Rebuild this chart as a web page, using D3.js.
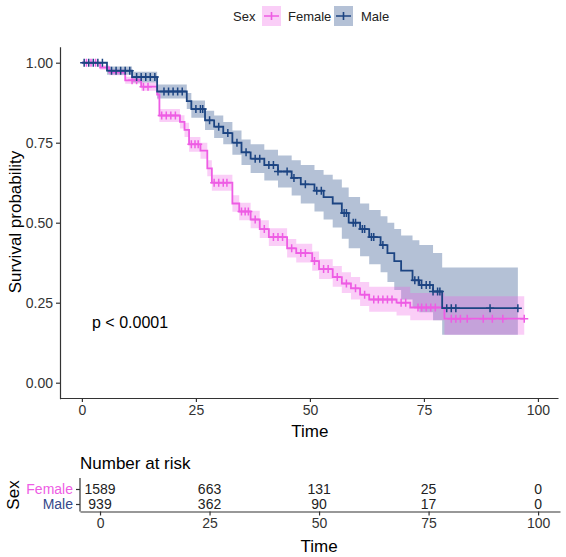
<!DOCTYPE html>
<html>
<head>
<meta charset="utf-8">
<script src="https://cdn.jsdelivr.net/npm/d3@7"></script>
<style>
  body { margin: 0; background: #fff; }
  text { font-family: "Liberation Sans", Arial, sans-serif; }
</style>
</head>
<body>
<script>
// survival steps
var femaleTime = [0, 4, 6, 9.5, 13, 16.5, 17, 21.5, 22.5, 23.5, 26, 27.5, 28.5, 33, 34.5, 37, 39, 41, 45, 47, 50.5, 52, 55, 57, 59, 61, 63, 69, 72, 79.5];
var femaleSurv = [1, .985, .97, .945, .925, .90, .835, .815, .79, .745, .725, .67, .625, .56, .535, .51, .48, .455, .42, .405, .38, .355, .33, .31, .295, .275, .26, .25, .235, .20];
var femaleLower = [1, .978, .961, .934, .912, .885, .815, .794, .768, .722, .70, .645, .60, .534, .508, .483, .452, .427, .391, .376, .35, .324, .30, .28, .26, .24, .222, .21, .195, .15];
var femaleUpper = [1, .992, .979, .956, .938, .915, .855, .836, .812, .768, .75, .695, .65, .586, .562, .537, .508, .483, .449, .434, .41, .386, .365, .345, .33, .315, .30, .30, .28, .27];
var femaleEnd = 97;
var femaleCensor = [1, 2, 3, 11, 12, 13.5, 14.5, 17.5, 18.5, 19.5, 20.5, 24, 24.8, 25.5, 29, 30, 31, 31.8, 35, 35.8, 36.5, 38, 40, 42, 43, 44, 46, 48, 49, 51, 53, 54, 56, 58, 60, 62, 64, 65, 66, 67, 68, 70, 71, 73.7, 74.5, 75.5, 76.5, 77.5, 81, 82, 83, 84.5, 88, 90, 92.3, 97];

var maleTime = [0, 5.5, 11, 16.5, 23, 24, 27, 29, 31, 33, 35, 37, 40, 43, 46, 48, 51, 53, 55, 57, 58.5, 61, 63, 65.5, 67, 68.5, 70, 72.5, 74, 77, 79];
var maleSurv = [1, .975, .955, .91, .88, .855, .82, .80, .78, .75, .72, .70, .68, .66, .64, .62, .60, .58, .56, .53, .50, .48, .455, .43, .405, .38, .35, .32, .305, .285, .233];
var maleLower = [1, .962, .938, .888, .855, .828, .79, .765, .745, .712, .68, .655, .632, .61, .585, .56, .535, .51, .485, .45, .42, .395, .37, .345, .315, .29, .26, .235, .22, .195, .15];
var maleUpper = [1, .988, .972, .932, .905, .882, .85, .835, .815, .788, .76, .745, .728, .71, .695, .68, .665, .65, .635, .61, .58, .56, .54, .52, .50, .48, .46, .445, .43, .405, .36];
var maleEnd = 95.6;
var maleCensor = [0.5, 1.5, 2.5, 3.5, 4.5, 6.5, 7.5, 8.5, 9.5, 10.5, 12, 13, 14, 15, 16, 18, 19, 20, 21, 22, 25, 26, 26.5, 28, 30, 32, 34, 36, 38, 39, 41, 42, 43, 45, 46.5, 49, 51.5, 52.5, 57.5, 58, 59.5, 60, 61.5, 62, 63.5, 64, 66, 73, 73.8, 74.5, 75.5, 76.3, 77, 78, 78.5, 80, 81, 82, 89.5, 95.6];

// number at risk table
var riskTimes = [0, 25, 50, 75, 100];
var riskFemale = [1589, 663, 131, 25, 0];
var riskMale = [939, 362, 90, 17, 0];

var groups = ["Female", "Male"];
var xTicks = [0, 25, 50, 75, 100];
var yTicks = [0, 0.25, 0.5, 0.75, 1];

var femaleColor = "#ee5ce4";
var maleColor = "#1c4482";
var axisColor = "#333";

var svg = d3.select("body").append("svg")
  .attr("width", 566)
  .attr("height", 557);

//scales of the survival panel
var x = d3.scaleLinear().domain([-4.8, 104.4]).range([60, 558]);
var y = d3.scaleLinear().domain([-0.05, 1.05]).range([398.7, 46.7]);

function series(time, surv, lower, upper, end) {
  var pts = time.map(function(t, i) {
    return {t: t, s: surv[i], lo: lower[i], hi: upper[i]};
  });
  var last = pts[pts.length - 1];
  pts.push({t: end, s: last.s, lo: last.lo, hi: last.hi});
  return pts;
}

var data = [
  {name: "Male", color: maleColor, alpha: 0.33, pts: series(maleTime, maleSurv, maleLower, maleUpper, maleEnd), censor: maleCensor, time: maleTime, surv: maleSurv},
  {name: "Female", color: femaleColor, alpha: 0.3, pts: series(femaleTime, femaleSurv, femaleLower, femaleUpper, femaleEnd), censor: femaleCensor, time: femaleTime, surv: femaleSurv}
];

var area = d3.area()
  .curve(d3.curveStepAfter)
  .x(function(d) { return x(d.t); })
  .y0(function(d) { return y(d.lo); })
  .y1(function(d) { return y(d.hi); });

var line = d3.line()
  .curve(d3.curveStepAfter)
  .x(function(d) { return x(d.t); })
  .y(function(d) { return y(d.s); });

//confidence bands first
svg.selectAll(".band")
  .data(data)
  .enter()
  .append("path")
  .attr("class", "band")
  .attr("d", function(d) { return area(d.pts); })
  .style("fill", function(d) { return d.color; })
  .style("fill-opacity", function(d) { return d.alpha; });

// draw female on top of male like the reference
data.slice().reverse().forEach(function(g) {
  svg.append("path")
    .attr("d", line(g.pts))
    .style("fill", "none")
    .style("stroke", g.color)
    .style("stroke-width", 1.8);

  var marks = svg.append("g").selectAll("path")
    .data(g.censor)
    .enter()
    .append("path")
    .attr("d", function(c) {
      var i = d3.bisectRight(g.time, c) - 1;
      var cx = x(c), cy = y(g.surv[Math.max(i, 0)]);
      return "M" + (cx - 4) + "," + cy + "H" + (cx + 4) + "M" + cx + "," + (cy - 4) + "V" + (cy + 4);
    })
    .style("stroke", g.color)
    .style("stroke-width", 1.5)
    .style("fill", "none");
});

//axes of the survival panel
var xAxis = svg.append("g")
  .attr("transform", "translate(0,398)")
  .call(d3.axisBottom(x).tickValues(xTicks).tickSize(4).tickSizeOuter(0).tickPadding(3));
var yAxis = svg.append("g")
  .attr("transform", "translate(60,0)")
  .call(d3.axisLeft(y).tickValues(yTicks).tickFormat(d3.format(".2f")).tickSize(4).tickSizeOuter(0).tickPadding(3));

[xAxis, yAxis].forEach(function(a) {
  a.selectAll("path, line").style("stroke", axisColor).style("stroke-width", 1.2);
  a.selectAll("text").style("font-size", "14px").style("fill", "#333")
    .style("font-family", "'Liberation Sans', Arial, sans-serif");
});

svg.append("text")
  .attr("x", x(50))
  .attr("y", 437)
  .attr("text-anchor", "middle")
  .style("font-size", "17px")
  .text("Time");

svg.append("text")
  .attr("transform", "translate(21,222) rotate(-90)")
  .attr("text-anchor", "middle")
  .style("font-size", "17px")
  .text("Survival probability");

svg.append("text")
  .attr("x", 92)
  .attr("y", 328)
  .style("font-size", "16px")
  .text("p < 0.0001");

//legend at top
var legend = svg.append("g");
legend.append("text")
  .attr("x", 233)
  .attr("y", 21)
  .style("font-size", "13px")
  .style("fill", "#222")
  .text("Sex");

var keys = [
  {name: "Female", color: femaleColor, alpha: 0.3, bx: 262, tx: 288},
  {name: "Male", color: maleColor, alpha: 0.33, bx: 334, tx: 361}
];
keys.forEach(function(k) {
  legend.append("rect")
    .attr("x", k.bx).attr("y", 6)
    .attr("width", 19).attr("height", 20)
    .style("fill", k.color).style("fill-opacity", k.alpha);
  legend.append("path")
    .attr("d", "M" + (k.bx + 2) + ",16H" + (k.bx + 17) + "M" + (k.bx + 9.5) + ",12V20")
    .style("stroke", k.color).style("stroke-width", 1.6);
  legend.append("text")
    .attr("x", k.tx).attr("y", 21)
    .style("font-size", "13px")
    .style("fill", "#222")
    .text(k.name);
});

//number at risk table
var tx = d3.scaleLinear().domain([-4.57, 105]).range([80, 560]);
var ty = d3.scalePoint().domain(groups).range([489, 504]);

svg.append("text")
  .attr("x", 80)
  .attr("y", 469)
  .style("font-size", "17px")
  .text("Number at risk");

var tAxisX = svg.append("g")
  .attr("transform", "translate(0,511.5)")
  .call(d3.axisBottom(tx).tickValues(xTicks).tickSize(4).tickSizeOuter(0).tickPadding(3));
var tAxisY = svg.append("g")
  .attr("transform", "translate(80,0)")
  .call(d3.axisLeft(ty).tickSize(4).tickSizeOuter(0).tickPadding(3));
tAxisY.select(".domain").attr("d", "M0,478V511.5");

[tAxisX, tAxisY].forEach(function(a) {
  a.selectAll("path, line").style("stroke", axisColor).style("stroke-width", 1.2);
  a.selectAll("text").style("font-size", "14px").style("fill", "#333")
    .style("font-family", "'Liberation Sans', Arial, sans-serif");
});
tAxisY.selectAll("text").style("fill", function(d) { return d === "Female" ? femaleColor : "#34488a"; });

var rows = [
  {name: "Female", vals: riskFemale},
  {name: "Male", vals: riskMale}
];
rows.forEach(function(r) {
  svg.append("g").selectAll("text")
    .data(r.vals)
    .enter()
    .append("text")
    .attr("x", function(d, i) { return tx(riskTimes[i]); })
    .attr("y", ty(r.name))
    .attr("dy", "0.35em")
    .attr("text-anchor", "middle")
    .style("font-size", "14px")
    .style("fill", "#222")
    .text(function(d) { return d; });
});

svg.append("text")
  .attr("x", tx(50))
  .attr("y", 552)
  .attr("text-anchor", "middle")
  .style("font-size", "17px")
  .text("Time");

svg.append("text")
  .attr("transform", "translate(19,495) rotate(-90)")
  .attr("text-anchor", "middle")
  .style("font-size", "17px")
  .text("Sex");
</script>
</body>
</html>
